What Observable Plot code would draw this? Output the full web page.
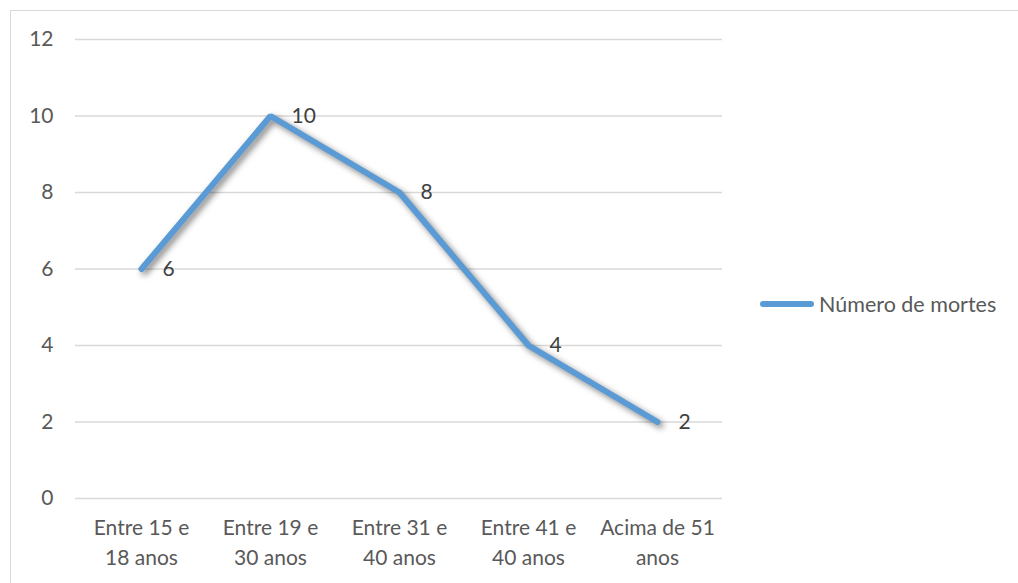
<!DOCTYPE html>
<html>
<head>
<meta charset="utf-8">
<script src="https://cdn.jsdelivr.net/npm/d3@7"></script>
<script src="https://cdn.jsdelivr.net/npm/@observablehq/plot@0.6"></script>
<style>
  body { margin: 0; background: #fff; }
  #wrap { position: relative; width: 1018px; height: 583px; overflow: hidden; font-family: Lato, "Open Sans", sans-serif; }
  #frame { position: absolute; left: 10px; top: 10px; width: 1100px; height: 700px; border: 1.5px solid #d9d9d9; box-sizing: border-box; }
  #chart { position: absolute; left: 0; top: 0; }
  #legend { position: absolute; left: 760px; top: 291px; display: flex; align-items: center; font-size: 21.5px; line-height: 26px; color: #595959; white-space: nowrap; }
  #legend .swatch { width: 54px; height: 6px; border-radius: 3px; background: #5b9bd5; margin-right: 5px; }
  .line-chart g[aria-label="line"] { filter: drop-shadow(3px 3px 3px rgba(0,0,0,0.5)); }
</style>
</head>
<body>
<div id="wrap">
  <div id="frame"></div>
  <div id="chart"></div>
  <div id="legend"><div class="swatch"></div><span id="legend-label"></span></div>
</div>
<script>
// Age groups and number of deaths in each
const categories = ["Entre 15 e\n18 anos", "Entre 19 e\n30 anos", "Entre 31 e\n40 anos", "Entre 41 e\n40 anos", "Acima de 51\nanos"];
const deaths = [6, 10, 8, 4, 2];
const yTicks = [0, 2, 4, 6, 8, 10, 12];
const seriesName = "Número de mortes";

const rows = categories.map((c, i) => ({category: c, value: deaths[i]}));

const chart = Plot.plot({
  className: "line-chart",
  width: 1018,
  height: 583,
  marginLeft: 75,
  marginRight: 296,
  marginTop: 39,
  marginBottom: 85,
  style: {fontFamily: "Lato, 'Open Sans', sans-serif", fontSize: "21px", color: "#595959", background: "transparent"},
  x: {type: "point", domain: categories, padding: 0.5},
  y: {domain: [0, 12]},
  marks: [
    Plot.ruleY(yTicks, {stroke: "#d9d9d9", strokeWidth: 1.3}),
    Plot.axisY(yTicks, {tickSize: 0, tickPadding: 22, fontSize: 21, fill: "#595959", label: null}),
    Plot.axisX({tickSize: 0, tickPadding: 15, fontSize: 21, fill: "#595959", lineHeight: 1.43, label: null}),
    Plot.line(rows, {x: "category", y: "value", stroke: "#5b9bd5", strokeWidth: 6, strokeLinejoin: "miter", strokeLinecap: "round"}),
    Plot.text(rows, {x: "category", y: "value", text: d => String(d.value), textAnchor: "start", dx: 21, fontSize: 21, fill: "#404040"})
  ]
});

document.getElementById("chart").appendChild(chart);
document.getElementById("legend-label").textContent = seriesName;
</script>
</body>
</html>
